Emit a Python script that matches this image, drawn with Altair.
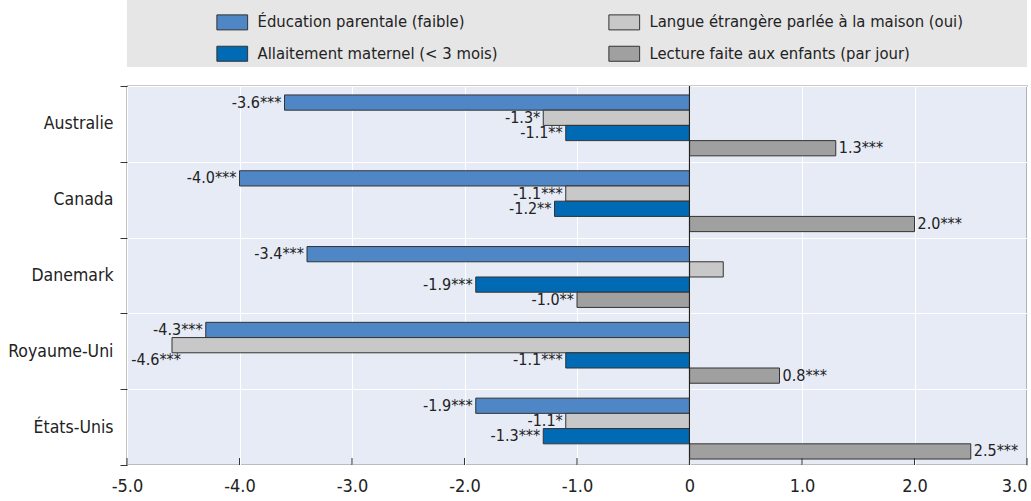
import altair as alt
import pandas as pd

# Countries (top to bottom) and the four indicators (order inside each band)
countries = ["Australie", "Canada", "Danemark", "Royaume-Uni", "États-Unis"]
series_names = [
    "Éducation parentale (faible)",
    "Langue étrangère parlée à la maison (oui)",
    "Allaitement maternel (< 3 mois)",
    "Lecture faite aux enfants (par jour)",
]
series_colors = ["#4F86C6", "#C8C8C8", "#006AB4", "#A0A0A0"]
# Legend fills column by column: first column holds the two blue series
legend_order = [series_names[0], series_names[2], series_names[1], series_names[3]]
legend_colors = [series_colors[0], series_colors[2], series_colors[1], series_colors[3]]

education = [-3.6, -4.0, -3.4, -4.3, -1.9]
education_sig = ["***", "***", "***", "***", "***"]
langue = [-1.3, -1.1, 0.3, -4.6, -1.1]
langue_sig = ["*", "***", None, "***", "*"]          # None: not significant, no label
allaitement = [-1.1, -1.2, -1.9, -1.1, -1.3]
allaitement_sig = ["**", "**", "***", "***", "***"]
lecture = [1.3, 2.0, -1.0, 0.8, 2.5]
lecture_sig = ["***", "***", "**", "***", "***"]

x_ticks = [-5, -4, -3, -2, -1, 0, 1, 2, 3]

rows = []
for name, vals, sigs in zip(
    series_names,
    [education, langue, allaitement, lecture],
    [education_sig, langue_sig, allaitement_sig, lecture_sig],
):
    for c, v, s in zip(countries, vals, sigs):
        rows.append({
            "pays": c,
            "serie": name,
            "valeur": v,
            "etiquette": "" if s is None else f"{v:.1f}{s}",
        })
df = pd.DataFrame(rows)

W, H = 900, 379
FONT = "DejaVu Sans Condensed, DejaVu Sans, sans-serif"
INK = "#222222"

x_enc = alt.X(
    "valeur:Q",
    scale=alt.Scale(domain=[-5, 3], nice=False, zero=False),
    axis=alt.Axis(
        title=None,
        values=x_ticks,
        labelExpr="datum.value == 0 ? '0' : (datum.value < 0 ? '-' + format(-datum.value, '.1f') : format(datum.value, '.1f'))",
        labelAlign={"expr": "datum.value == 3 ? 'right' : 'center'"},
        grid=True, gridColor="white", gridWidth=1,
        ticks=False, domain=False,
        labelFont=FONT, labelFontSize=18, labelColor=INK,
        labelPadding=12, labelFlush=False,
    ),
)
y_enc = alt.Y(
    "pays:N",
    sort=countries,
    scale=alt.Scale(paddingInner=0, paddingOuter=0),
    axis=alt.Axis(
        title=None,
        tickBand="extent",
        grid=True, gridColor="white", gridWidth=1,
        ticks=True, tickSize=7, tickColor="#333333",
        domain=False,
        labelFont=FONT, labelFontSize=17.5, labelColor=INK,
        labelPadding=7,
    ),
)
yoff_enc = alt.YOffset(
    "serie:N",
    sort=series_names,
    scale=alt.Scale(paddingInner=0, paddingOuter=0.49, align=0.6),
)

base = alt.Chart(df)

# Grey band behind the legend, spanning the plot width
legend_band = alt.Chart(pd.DataFrame({"valeur": [0]})).mark_rect(
    color="#E6E6E6"
).encode(
    x=alt.value(0), x2=alt.value(W), y=alt.value(-86), y2=alt.value(-19)
)

bars = base.mark_bar(stroke="#333333", strokeWidth=1).encode(
    x=x_enc,
    y=y_enc,
    yOffset=yoff_enc,
    color=alt.Color(
        "serie:N",
        scale=alt.Scale(domain=legend_order, range=legend_colors),
        legend=alt.Legend(
            title=None,
            orient="none",
            legendX=97,
            legendY=-72,
            columns=2,
            columnPadding=108,
            rowPadding=11.5,
            padding=0,
            symbolType="M-2.05,-1L2.05,-1L2.05,1L-2.05,1Z",
            symbolSize=225,
            symbolStrokeColor="#333333",
            symbolStrokeWidth=1,
            symbolOpacity=1,
            labelFont=FONT,
            labelFontSize=16.5,
            labelColor=INK,
            labelOffset=17,
            labelLimit=400,
        ),
    ),
)

text_style = dict(font=FONT, fontSize=16, color=INK, baseline="middle")
label_enc = dict(x="valeur:Q", y=alt.Y("pays:N", sort=countries), yOffset=yoff_enc, text="etiquette:N")

labels_neg = base.transform_filter(
    "datum.valeur < 0 && datum.valeur > -4.5"
).mark_text(align="right", dx=-3, **text_style).encode(**label_enc)

labels_pos = base.transform_filter("datum.valeur >= 0").mark_text(
    align="left", dx=3, **text_style
).encode(**label_enc)

# Bars reaching the left edge get their label underneath
labels_edge = base.transform_filter("datum.valeur <= -4.5").mark_text(
    align="right", dx=9, dy=15, **text_style
).encode(**label_enc)

zero_line = alt.Chart(pd.DataFrame({"valeur": [0]})).mark_rule(
    color="#222222", strokeWidth=1.2
).encode(x="valeur:Q")

inner_ticks = alt.Chart(pd.DataFrame({"valeur": x_ticks})).mark_rule(
    color="#333333", strokeWidth=1
).encode(x="valeur:Q", y=alt.value(H - 7), y2=alt.value(H))

chart = alt.layer(
    legend_band, bars, labels_neg, labels_pos, labels_edge, zero_line, inner_ticks
).properties(
    width=W,
    height=H,
    padding={"left": 127, "top": 86, "right": 4, "bottom": 36},
    autosize=alt.AutoSizeParams(type="none"),
    background="white",
).configure_view(
    fill="#E6EBF5", stroke="#333333", strokeWidth=1.2
)

chart.save("out.html", embed_options={"renderer": "svg", "actions": False})
